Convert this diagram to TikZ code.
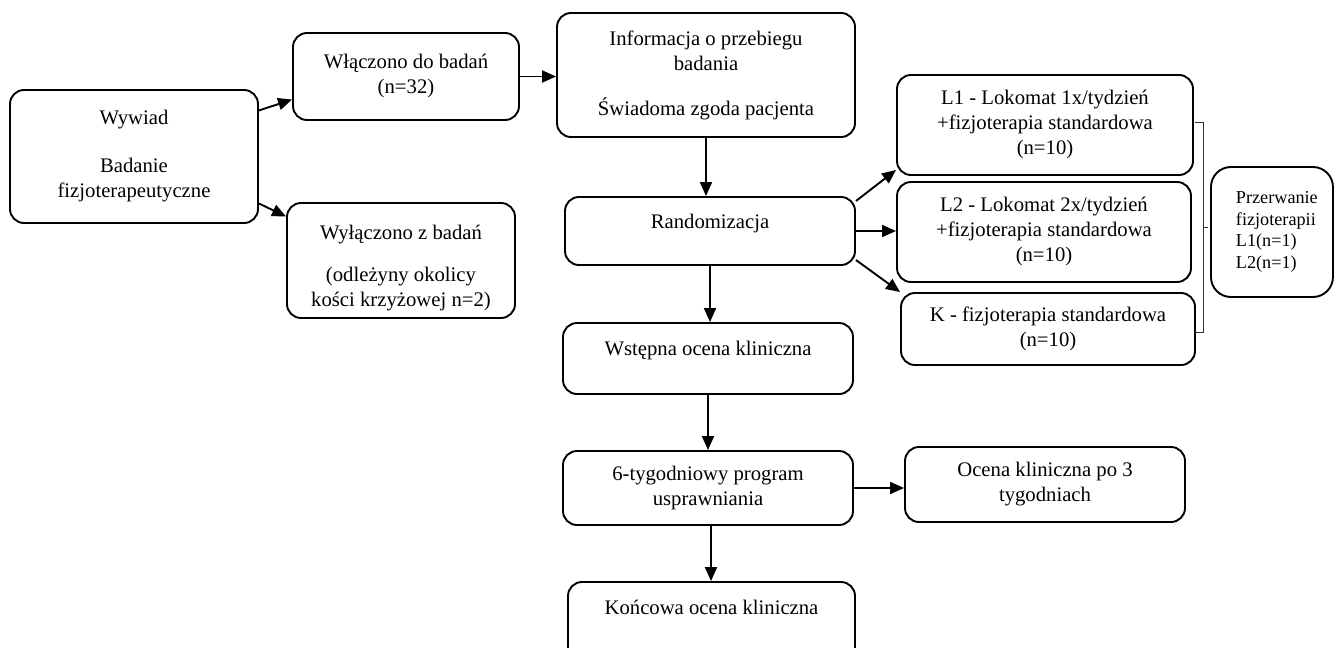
\documentclass[tikz,border=0pt]{standalone}
\usepackage{fontspec}
\setmainfont{Liberation Serif}
\usetikzlibrary{arrows.meta}
\tikzset{
  fz box/.style={
    draw=black,line width=1.9pt,rounded corners=14pt,align=center,
    inner sep=0pt,font=\fontsize{20.7}{25}\selectfont
  },
  fz arrow/.style={black,line width=1.9pt,-{Triangle[length=14pt,width=12pt]}},
  fz bracket/.style={black!80,line width=0.8pt}
}

\begin{document}
\begin{tikzpicture}[x=1pt,y=-1pt]
  \useasboundingbox (0,0) rectangle (1334,648);
  \node[fz box,minimum width=248pt,minimum height=133pt] (wyw) at (134,156.5)
    {Wywiad\\[23pt]Badanie\\fizjoterapeutyczne};
  \node[fz box,minimum width=226pt,minimum height=87pt] (wl) at (406,76.5)
    {Włączono do badań\\(n=32)};
  \node[fz box,minimum width=228pt,minimum height=115pt] (wyl) at (401,260.5)
    {\rule{0pt}{30pt}Wyłączono z badań\\[17pt](odleżyny okolicy\\kości krzyżowej n=2)};
  \node[fz box,minimum width=298pt,minimum height=124pt] (info) at (706,75)
    {Informacja o przebiegu\\badania\\[20pt]Świadoma zgoda pacjenta};
  \node[fz box,minimum width=290pt,minimum height=68pt,text depth=20pt] (rand) at (710,231)
    {Randomizacja};
  \node[fz box,minimum width=290pt,minimum height=71pt,text depth=21pt] (wst) at (708,358.5)
    {Wstępna ocena kliniczna};
  \node[fz box,minimum width=290pt,minimum height=74pt] (prog) at (708,488)
    {6-tygodniowy program\\usprawniania};
  \node[fz box,minimum width=287pt,minimum height=86pt,text depth=35pt] (kon) at (711.5,625)
    {Końcowa ocena kliniczna};
  \node[fz box,minimum width=296pt,minimum height=100pt] (l1) at (1045,125)
    {L1 - Lokomat 1x/tydzień\\+fizjoterapia standardowa\\(n=10)};
  \node[fz box,minimum width=294pt,minimum height=100pt] (l2) at (1044,232)
    {L2 - Lokomat 2x/tydzień\\+fizjoterapia standardowa\\(n=10)};
  \node[fz box,minimum width=294pt,minimum height=72pt] (k) at (1048,329)
    {K - fizjoterapia standardowa\\(n=10)};
  \node[fz box,minimum width=280pt,minimum height=75pt] (oc3) at (1045,484.5)
    {Ocena kliniczna po 3\\tygodniach};
  \node[fz box,rounded corners=20pt,align=left,text width=72pt,inner xsep=25pt,
    minimum height=130pt,font=\fontsize{18.2}{21.7}\selectfont,anchor=west] (prz) at (1210,232)
    {Przerwanie\\fizjoterapii\\L1(n=1)\\L2(n=1)};
  % klamra przy grupach
  \draw[fz bracket] (1195,122) -- (1203,122) -- (1203,332) -- (1195,332)
    (1203,227) -- (1208,227);
  % strzalki
  \draw[fz arrow] ([yshift=46pt]wyw.east) -- ([yshift=-23pt]wl.west);
  \draw[fz arrow] ([yshift=-47pt]wyw.east) -- ([yshift=44pt]wyl.west);
  \draw[fz arrow] (wl.east) -- (wl.east -| info.west);
  \draw[fz arrow] (info.south) -- (info.south |- rand.north);
  \draw[fz arrow] ([yshift=30pt]rand.east) -- ([yshift=6pt]l1.south west);
  \draw[fz arrow] (rand.east) -- (rand.east -| l2.west);
  \draw[fz arrow] ([yshift=-29pt]rand.east) -- (k.north west);
  \draw[fz arrow] (rand.south) -- (rand.south |- wst.north);
  \draw[fz arrow] (wst.south) -- (wst.south |- prog.north);
  \draw[fz arrow] ([xshift=3pt]prog.south) -- ([xshift=3pt]prog.south |- kon.north);
  \draw[fz arrow] (prog.east) -- (prog.east -| oc3.west);
\end{tikzpicture}
\end{document}
